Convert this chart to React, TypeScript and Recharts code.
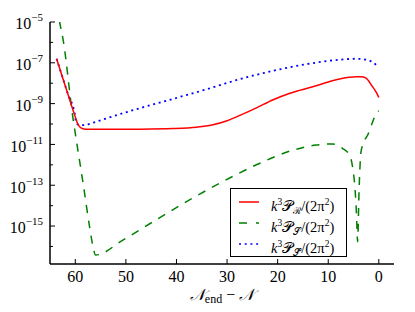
import React from 'react';
import { LineChart, Line, XAxis, YAxis, Legend } from 'recharts';

// N_end - N positions and values
const nR = [63.7, 61.5, 60.0, 59.5, 59.0, 58.5, 57.5, 53.9, 47.3, 40.7, 36.0, 33.0, 30.0, 27.6, 24.3, 21.0, 17.7, 15.7, 12.4, 9.2, 5.9, 4.5, 3.5, 2.6, 1.3, 0.5, 0.0];
const vR = [1.58e-7, 3.16e-9, 2.24e-10, 1.0e-10, 6.76e-11, 5.89e-11, 5.5e-11, 5.5e-11, 5.6e-11, 6.0e-11, 7.0e-11, 8.9e-11, 1.45e-10, 2.57e-10, 6.03e-10, 1.51e-9, 3.16e-9, 4.47e-9, 7.59e-9, 1.32e-8, 1.95e-8, 2.09e-8, 2.09e-8, 1.82e-8, 7.08e-9, 3.55e-9, 2.0e-9];

const nS = [63.7, 63.1, 62.4, 60.5, 59.8, 58.4, 57.2, 56.5, 56.0, 50.6, 44.1, 37.5, 30.9, 24.3, 16.4, 12.4, 9.2, 7.2, 5.8, 5.2, 4.7, 4.4, 4.2, 3.9, 3.56, 3.2, 2.2, 0.47, 0.0];
const vS = [6.31e-5, 1.0e-5, 1.32e-6, 2.29e-10, 1.66e-11, 1.0e-13, 1.0e-15, 1.0e-16, 3.8e-17, 2.04e-16, 1.95e-15, 1.86e-14, 1.48e-13, 9.77e-13, 5.75e-12, 9.33e-12, 1.05e-11, 6.46e-12, 3.02e-12, 8.13e-13, 6.31e-14, 3.16e-15, 1.7e-16, 6.31e-14, 3.63e-12, 9.33e-12, 2.88e-11, 3.31e-10, 4.47e-10];

const nT = [63.7, 61.5, 60.0, 59.9, 59.0, 58.1, 55.9, 53.8, 47.3, 40.7, 34.1, 27.6, 21.0, 14.4, 7.8, 4.5, 2.2, 0.0];
const vT = [1.58e-7, 3.16e-9, 2.24e-10, 1.17e-10, 8.71e-11, 8.91e-11, 1.29e-10, 1.91e-10, 5.89e-10, 1.7e-9, 5.01e-9, 1.55e-8, 3.98e-8, 8.51e-8, 1.41e-7, 1.58e-7, 1.38e-7, 6.03e-8];

const xTicks = [0, 10, 20, 30, 40, 50, 60];
const yTicks = [1e-16, 1e-15, 1e-14, 1e-13, 1e-12, 1e-11, 1e-10, 1e-9, 1e-8, 1e-7, 1e-6, 1e-5];
const yLabelExps = [-15, -13, -11, -9, -7, -5];

const xDomain = [-3, 65];
const yDomain = [1.38e-17, 1e-5];

const zip = (n: number[], v: number[]) => n.map((x, i) => ({ n: x, v: v[i] }));
const dataR = zip(nR, vR);
const dataS = zip(nS, vS);
const dataT = zip(nT, vT);

const SERIF = '"Liberation Serif", "DejaVu Serif", serif';

const LeftTick = (props: any) => {
  const { x, y, payload } = props;
  const e = Math.round(Math.log10(payload.value));
  const major = yLabelExps.includes(e);
  return (
    <g>
      <line x1={x} x2={x + (major ? 5 : 3)} y1={y} y2={y} stroke="#000" strokeWidth={1} />
      {major && (
        <text x={x - 7} y={y + 7.3} textAnchor="end" fontFamily={SERIF} fontSize={16} fill="#000">
          10<tspan dy={-8} fontSize={11}>{'\u2212' + Math.abs(e)}</tspan>
        </text>
      )}
    </g>
  );
};

const RightTick = (props: any) => {
  const { x, y, payload } = props;
  const e = Math.round(Math.log10(payload.value));
  const major = yLabelExps.includes(e);
  return <line x1={x} x2={x - (major ? 5 : 3)} y1={y} y2={y} stroke="#000" strokeWidth={1} />;
};

const BottomTick = (props: any) => {
  const { x, y, payload } = props;
  return (
    <g>
      <line x1={x} x2={x} y1={y} y2={y - 5} stroke="#000" strokeWidth={1} />
      <text x={x} y={y + 18} textAnchor="middle" fontFamily={SERIF} fontSize={16} fill="#000">
        {payload.value}
      </text>
    </g>
  );
};

const TopTick = (props: any) => {
  const { x, y } = props;
  return <line x1={x} x2={x} y1={y} y2={y + 5} stroke="#000" strokeWidth={1} />;
};

const XLabel = (props: any) => {
  const vb = props.viewBox || { x: 50, y: 264, width: 344, height: 48 };
  const cx = vb.x + vb.width / 2;
  return (
    <text x={cx} y={vb.y + 36} textAnchor="middle" fontFamily={SERIF} fontSize={16} fill="#000">
      <tspan fontStyle="italic">{'\uD835\uDCA9'}</tspan>
      <tspan dy={3} fontSize={12}>end</tspan>
      <tspan dy={-3}>{' \u2212 '}</tspan>
      <tspan fontStyle="italic">{'\uD835\uDCA9'}</tspan>
    </text>
  );
};

const legendItems = [
  { color: '#ff0000', dash: undefined as string | undefined, sub: '\u211B', tilde: false },
  { color: '#008000', dash: '8 9', sub: '\uD835\uDCAE', tilde: false },
  { color: '#0000ff', dash: '2 3.7', sub: '\uD835\uDCAE', tilde: true },
];

const LegendBox = () => (
  <div
    style={{
      position: 'relative',
      width: 117,
      height: 69,
      border: '1.5px solid #000',
      boxSizing: 'border-box',
      background: '#fff',
      fontFamily: SERIF,
      fontSize: 14.5,
      color: '#000',
    }}
  >
    {legendItems.map((it, i) => (
      <div key={i} style={{ position: 'absolute', left: 0, top: 4.3 + i * 21 - 1.5, height: 20, width: 115 }}>
        <svg width={22} height={20} style={{ position: 'absolute', left: 6.5, top: 0 }}>
          <line x1={1} x2={21} y1={10} y2={10} stroke={it.color} strokeWidth={1.5} strokeDasharray={it.dash} />
        </svg>
        <span style={{ position: 'absolute', left: 40, top: 0, lineHeight: '20px', whiteSpace: 'nowrap' }}>
          <i>k</i>
          <sup style={{ fontSize: 9.5, verticalAlign: 6 }}>3</sup>
          <span style={{ fontWeight: 'normal' }}>{'\uD835\uDCAB'}</span>
          <sub style={{ fontSize: 9.5, verticalAlign: -3 }}>
            {it.tilde ? it.sub + '\u0303' : it.sub}
          </sub>
          /(2π<sup style={{ fontSize: 9.5, verticalAlign: 6 }}>2</sup>)
        </span>
      </div>
    ))}
  </div>
);

export default function App() {
  return (
    <div style={{ position: 'absolute', left: 0, top: 0, width: 415, height: 312, background: '#fff' }}>
      <LineChart width={415} height={312} margin={{ top: 22, right: 21, bottom: 0, left: 0 }}>
        <XAxis
          xAxisId={0}
          dataKey="n"
          type="number"
          domain={xDomain}
          reversed
          allowDataOverflow
          ticks={xTicks}
          interval={0}
          height={48}
          tickSize={0}
          tickMargin={0}
          tickLine={false}
          axisLine={{ stroke: '#000', strokeWidth: 1.5 }}
          tick={<BottomTick />}
          label={<XLabel />}
        />
        <XAxis
          xAxisId="t"
          orientation="top"
          dataKey="n"
          type="number"
          domain={xDomain}
          reversed
          allowDataOverflow
          ticks={xTicks}
          interval={0}
          height={0}
          tickSize={0}
          tickMargin={0}
          tickLine={false}
          axisLine={{ stroke: '#000', strokeWidth: 1.5 }}
          tick={<TopTick />}
        />
        <YAxis
          yAxisId={0}
          type="number"
          scale="log"
          domain={yDomain}
          allowDataOverflow
          ticks={yTicks}
          interval={0}
          width={50}
          tickSize={0}
          tickMargin={0}
          tickLine={false}
          axisLine={{ stroke: '#000', strokeWidth: 1.5 }}
          tick={<LeftTick />}
        />
        <YAxis
          yAxisId="r"
          orientation="right"
          type="number"
          scale="log"
          domain={yDomain}
          allowDataOverflow
          ticks={yTicks}
          interval={0}
          width={0}
          tickSize={0}
          tickMargin={0}
          tickLine={false}
          axisLine={{ stroke: '#000', strokeWidth: 1.5 }}
          tick={<RightTick />}
        />
        <Line data={dataS} dataKey="v" type="monotone" stroke="#008000" strokeWidth={1.5} strokeDasharray="8 7.5" dot={false} isAnimationActive={false} />
        <Line data={dataT} dataKey="v" type="monotone" stroke="#0000ff" strokeWidth={1.8} strokeDasharray="2 3.7" dot={false} isAnimationActive={false} />
        <Line data={dataR} dataKey="v" type="monotone" stroke="#ff0000" strokeWidth={1.5} dot={false} isAnimationActive={false} />
        <Legend
          layout="horizontal"
          verticalAlign="middle"
          align="center"
          content={<LegendBox />}
          wrapperStyle={{ left: 230, top: 188, width: 117, height: 69, margin: 0, padding: 0 }}
        />
      </LineChart>
    </div>
  );
}
